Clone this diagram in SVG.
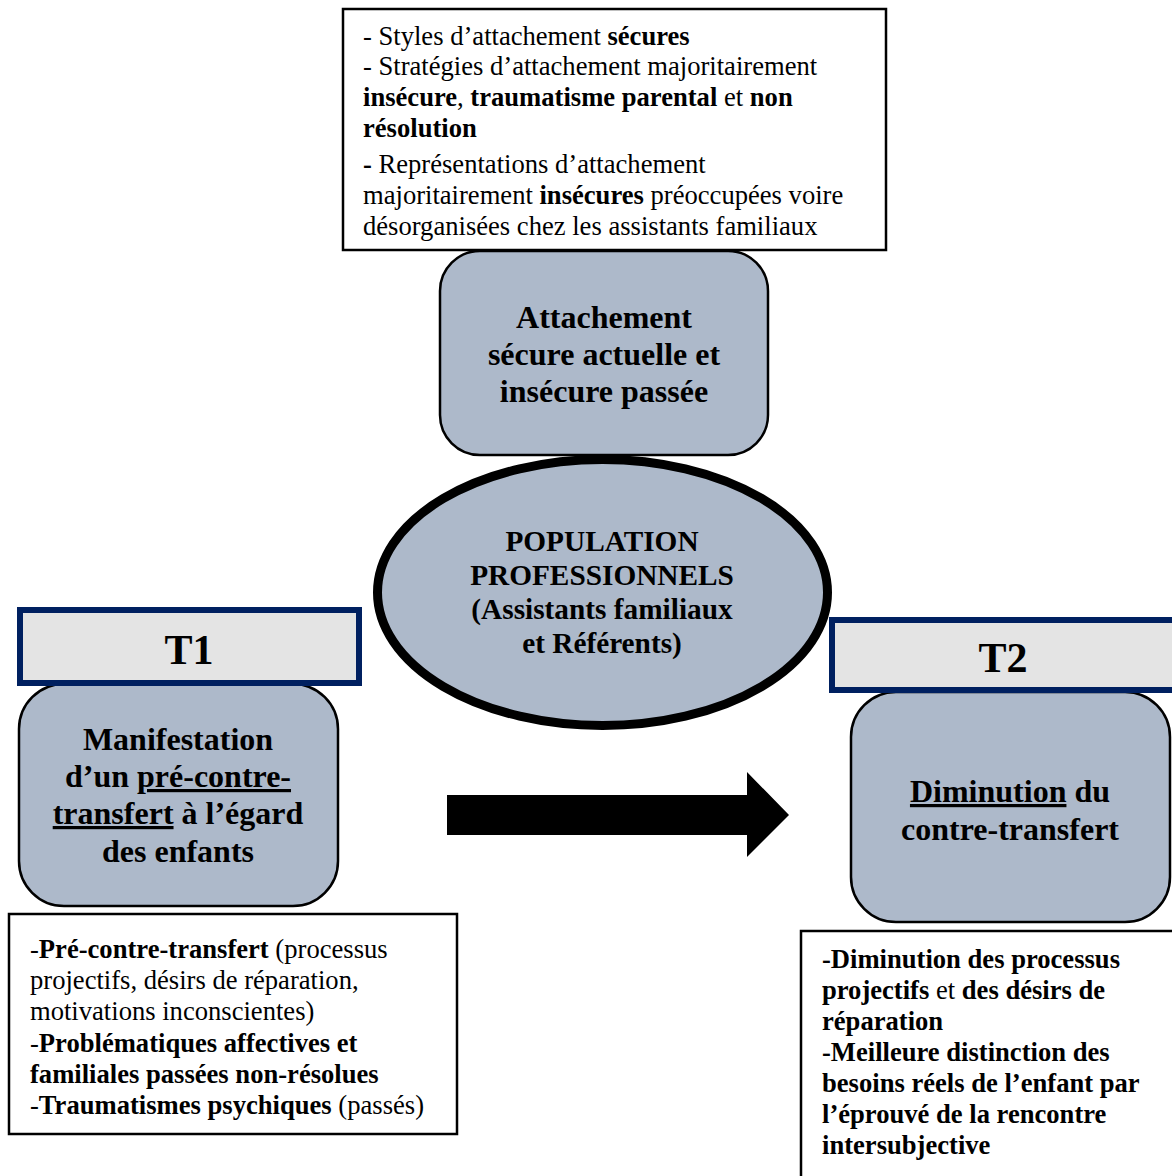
<svg xmlns="http://www.w3.org/2000/svg" width="1172" height="1176" viewBox="0 0 1172 1176">
<style>
text{font-family:"Liberation Serif","Times New Roman",serif;fill:#000}
.t{font-size:26.6px}
.b{font-weight:bold}
.h{font-size:32px;font-weight:bold;text-anchor:middle}
.p{font-size:29.3px;font-weight:bold;text-anchor:middle}
.tt{font-size:42px;font-weight:bold;text-anchor:middle}
.box{fill:#fff;stroke:#000;stroke-width:2.5}
.rr{fill:#adb9ca;stroke:#000;stroke-width:2.5}
.tab{fill:#e4e4e4;stroke:#002060;stroke-width:6}
.u{text-decoration:underline}
</style>
<rect width="1172" height="1176" fill="#fff"/>
<g id="connectors">
<polygon points="447,795 747,795 747,772 789,815 747,857 747,835 447,835" fill="#000"/>
</g>
<g id="top-note">
<rect class="box" x="343" y="9" width="543" height="241"/>
<text class="t" x="363" y="44.5">- Styles d’attachement <tspan class="b">sécures</tspan></text>
<text class="t" x="363" y="74.5">- Stratégies d’attachement majoritairement</text>
<text class="t" x="363" y="105.5"><tspan class="b">insécure</tspan>, <tspan class="b">traumatisme parental</tspan> et <tspan class="b">non</tspan></text>
<text class="t b" x="363" y="136.5">résolution</text>
<text class="t" x="363" y="172.5"><tspan class="b">-</tspan> Représentations d’attachement</text>
<text class="t" x="363" y="203.5">majoritairement <tspan class="b">insécures</tspan> préoccupées voire</text>
<text class="t" x="363" y="234.5">désorganisées chez les assistants familiaux</text>
</g>
<g id="attachement">
<rect class="rr" x="440" y="251" width="328" height="204" rx="40"/>
<text class="h" x="604" y="328">Attachement</text>
<text class="h" x="604" y="365">sécure actuelle et</text>
<text class="h" x="604" y="402">insécure passée</text>
</g>
<g id="population">
<ellipse cx="602.5" cy="592.5" rx="225" ry="133" fill="#adb9ca" stroke="#000" stroke-width="9"/>
<text class="p" x="602" y="551">POPULATION</text>
<text class="p" x="602" y="585">PROFESSIONNELS</text>
<text class="p" x="602" y="619">(Assistants familiaux</text>
<text class="p" x="602" y="653">et Référents)</text>
</g>
<g id="t1">
<rect class="rr" x="19" y="684" width="319" height="222" rx="45"/>
<rect class="tab" x="20" y="610" width="339" height="73"/>
<text class="tt" x="189" y="664">T1</text>
<text class="h" x="178" y="750">Manifestation</text>
<text class="h" x="178" y="787">d’un <tspan class="u">pré-contre-</tspan></text>
<text class="h" x="178" y="824"><tspan class="u">transfert</tspan> à l’égard</text>
<text class="h" x="178" y="862">des enfants</text>
</g>
<g id="t1-note">
<rect class="box" x="9" y="914" width="448" height="220"/>
<text class="t" x="30" y="957.5">-<tspan class="b">Pré-contre-transfert</tspan> (processus</text>
<text class="t" x="30" y="988.5">projectifs, désirs de réparation,</text>
<text class="t" x="30" y="1019.5">motivations inconscientes)</text>
<text class="t" x="30" y="1051.5">-<tspan class="b">Problématiques affectives et</tspan></text>
<text class="t b" x="30" y="1082.5">familiales passées non-résolues</text>
<text class="t" x="30" y="1113.5">-<tspan class="b">Traumatismes psychiques</tspan> (passés)</text>
</g>
<g id="t2">
<rect class="rr" x="851" y="692" width="319" height="230" rx="45"/>
<rect class="tab" x="832" y="620" width="345" height="70"/>
<text class="tt" x="1003" y="672">T2</text>
<text class="h" x="1010" y="802"><tspan class="u">Diminution</tspan> du</text>
<text class="h" x="1010" y="840">contre-transfert</text>
</g>
<g id="t2-note">
<rect class="box" x="801" y="931" width="380" height="260"/>
<text class="t b" x="822" y="967.5">-Diminution des processus</text>
<text class="t" x="822" y="998.5"><tspan class="b">projectifs</tspan> et <tspan class="b">des désirs de</tspan></text>
<text class="t b" x="822" y="1029.5">réparation</text>
<text class="t b" x="822" y="1060.5">-Meilleure distinction des</text>
<text class="t b" x="822" y="1091.5">besoins réels de l’enfant par</text>
<text class="t b" x="822" y="1122.5">l’éprouvé de la rencontre</text>
<text class="t b" x="822" y="1153.5">intersubjective</text>
</g>
</svg>
